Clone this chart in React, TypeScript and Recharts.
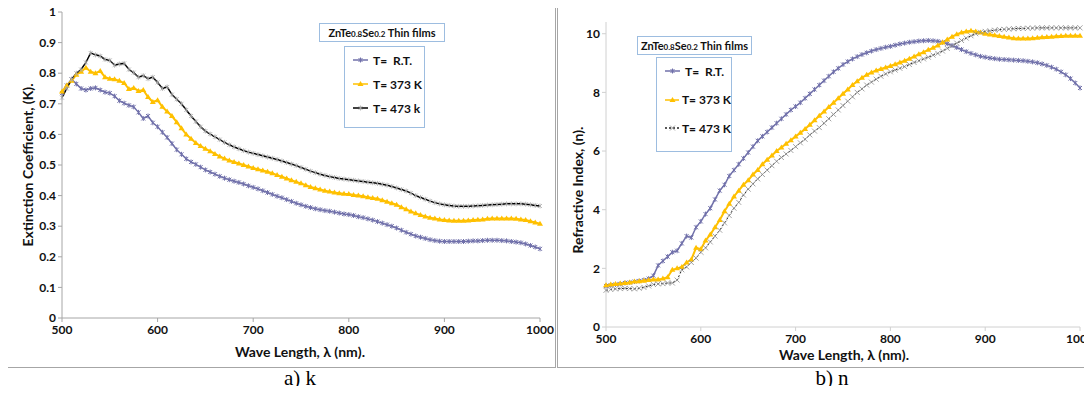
import { LineChart, Line, XAxis, YAxis } from "recharts";

// wavelength (nm), one reading every 5 nm
const WL = [
  500, 505, 510, 515, 520, 525, 530, 535, 540, 545,
  550, 555, 560, 565, 570, 575, 580, 585, 590, 595,
  600, 605, 610, 615, 620, 625, 630, 635, 640, 645,
  650, 655, 660, 665, 670, 675, 680, 685, 690, 695,
  700, 705, 710, 715, 720, 725, 730, 735, 740, 745,
  750, 755, 760, 765, 770, 775, 780, 785, 790, 795,
  800, 805, 810, 815, 820, 825, 830, 835, 840, 845,
  850, 855, 860, 865, 870, 875, 880, 885, 890, 895,
  900, 905, 910, 915, 920, 925, 930, 935, 940, 945,
  950, 955, 960, 965, 970, 975, 980, 985, 990, 995,
  1000,
];

// extinction coefficient k
const K_RT = [
  0.735, 0.76, 0.78, 0.765, 0.75, 0.745, 0.75, 0.752, 0.745, 0.738,
  0.735, 0.725, 0.71, 0.702, 0.695, 0.69, 0.672, 0.652, 0.66, 0.638,
  0.625, 0.607, 0.59, 0.57, 0.55, 0.535, 0.52, 0.51, 0.502, 0.493,
  0.484, 0.477, 0.47, 0.463, 0.457, 0.452, 0.447, 0.443, 0.438, 0.432,
  0.427, 0.422, 0.416, 0.41, 0.404, 0.398, 0.393, 0.387, 0.381, 0.375,
  0.37, 0.365, 0.361, 0.357, 0.354, 0.351, 0.349, 0.346, 0.343, 0.34,
  0.338, 0.335, 0.331, 0.328, 0.324, 0.32, 0.315, 0.31, 0.305, 0.3,
  0.294, 0.287, 0.28, 0.274, 0.268, 0.264, 0.26, 0.256, 0.253, 0.251,
  0.25, 0.25, 0.25, 0.25, 0.25, 0.251, 0.252, 0.252, 0.253, 0.254,
  0.254, 0.254, 0.253, 0.252, 0.25, 0.248, 0.246, 0.242, 0.237, 0.232,
  0.226,
];
const K_373 = [
  0.74, 0.76, 0.775, 0.795, 0.805, 0.818, 0.805, 0.8, 0.807, 0.787,
  0.782, 0.78, 0.775, 0.768, 0.748, 0.752, 0.742, 0.745, 0.722, 0.706,
  0.712, 0.69, 0.675, 0.66, 0.64, 0.62, 0.6, 0.586, 0.572, 0.562,
  0.553, 0.545, 0.536, 0.528, 0.521, 0.515, 0.51, 0.505, 0.5, 0.495,
  0.49, 0.486, 0.482, 0.478, 0.473, 0.467, 0.462, 0.456, 0.45, 0.445,
  0.44, 0.434, 0.428, 0.424, 0.42, 0.416, 0.413, 0.41, 0.408, 0.406,
  0.405, 0.402, 0.4, 0.398, 0.395, 0.392, 0.39, 0.385, 0.38, 0.375,
  0.37, 0.362, 0.355, 0.348, 0.342, 0.337, 0.332, 0.328, 0.325, 0.322,
  0.32, 0.319, 0.318, 0.318, 0.318, 0.319, 0.32, 0.321, 0.322, 0.324,
  0.325, 0.325, 0.325, 0.325, 0.325, 0.324, 0.322, 0.32, 0.316, 0.312,
  0.308,
];
const K_473 = [
  0.72, 0.75, 0.78, 0.8, 0.812, 0.835, 0.866, 0.86, 0.856, 0.845,
  0.842, 0.826, 0.83, 0.832, 0.812, 0.802, 0.787, 0.792, 0.782, 0.787,
  0.77, 0.75, 0.755, 0.73, 0.715, 0.7, 0.68, 0.66, 0.642, 0.625,
  0.611, 0.601, 0.592, 0.583, 0.574, 0.566, 0.559, 0.553, 0.547, 0.542,
  0.538, 0.534, 0.53, 0.526, 0.522, 0.518, 0.513, 0.508, 0.503, 0.498,
  0.492, 0.486, 0.48, 0.475, 0.47, 0.466, 0.462, 0.459, 0.456, 0.454,
  0.452, 0.45, 0.448, 0.446, 0.444, 0.442, 0.44, 0.437, 0.434, 0.43,
  0.425, 0.42, 0.415, 0.408, 0.4, 0.394, 0.388, 0.382, 0.377, 0.373,
  0.37, 0.368, 0.366, 0.365, 0.365, 0.365, 0.366, 0.367, 0.368, 0.369,
  0.37, 0.371, 0.372, 0.373, 0.373, 0.373, 0.373, 0.372, 0.37, 0.368,
  0.366,
];

// refractive index n
const N_RT = [
  1.4, 1.42, 1.45, 1.47, 1.5, 1.52, 1.55, 1.57, 1.6, 1.65,
  1.75, 2.1, 2.25, 2.4, 2.55, 2.6, 2.85, 3.1, 3.05, 3.4,
  3.6, 3.85, 4.05, 4.35, 4.65, 4.85, 5.15, 5.35, 5.55, 5.75,
  5.95, 6.15, 6.35, 6.5, 6.65, 6.8, 6.95, 7.1, 7.25, 7.4,
  7.52, 7.65, 7.8, 7.95, 8.1, 8.25, 8.4, 8.55, 8.7, 8.82,
  8.95, 9.05, 9.14, 9.22, 9.29, 9.35, 9.41, 9.46, 9.5, 9.54,
  9.57, 9.61, 9.65, 9.68, 9.71, 9.73, 9.75, 9.76, 9.77, 9.76,
  9.74, 9.71, 9.66, 9.6, 9.53, 9.46, 9.39, 9.33, 9.28, 9.23,
  9.2, 9.17, 9.15, 9.13, 9.12, 9.11, 9.1, 9.09, 9.08, 9.06,
  9.04, 9.01, 8.97, 8.92, 8.86, 8.79, 8.7, 8.6, 8.47, 8.32,
  8.15,
];
const N_373 = [
  1.42, 1.45, 1.47, 1.48, 1.5, 1.52, 1.55, 1.56, 1.58, 1.6,
  1.62, 1.62, 1.65, 1.7, 1.95, 2.0, 2.05, 2.2, 2.3, 2.7,
  2.65, 2.95, 3.15, 3.4, 3.65, 3.95, 4.2, 4.45, 4.65, 4.85,
  5.0, 5.2, 5.35, 5.55, 5.7, 5.85, 6.0, 6.12, 6.25, 6.37,
  6.5, 6.62, 6.75, 6.9, 7.05, 7.2, 7.35, 7.5, 7.65, 7.8,
  7.95, 8.1, 8.25, 8.38, 8.5, 8.6, 8.68, 8.75, 8.8, 8.85,
  8.9, 8.96, 9.02, 9.08, 9.15, 9.22, 9.3, 9.37, 9.45, 9.52,
  9.6, 9.7, 9.8, 9.9, 9.98, 10.04, 10.08, 10.1, 10.08, 10.04,
  10.0, 9.97, 9.95, 9.92, 9.9, 9.87, 9.85, 9.84, 9.84, 9.84,
  9.85, 9.86, 9.88, 9.89, 9.9, 9.91, 9.92, 9.93, 9.93, 9.93,
  9.93,
];
const N_473 = [
  1.25, 1.28, 1.3, 1.31, 1.32, 1.31, 1.3, 1.32, 1.35, 1.4,
  1.45, 1.47, 1.48, 1.5, 1.5, 1.6, 1.95, 2.05, 2.2, 2.35,
  2.55, 2.7, 2.9, 3.1, 3.3, 3.55, 3.8, 4.05, 4.25, 4.5,
  4.7, 4.88, 5.05, 5.2, 5.35, 5.5, 5.65, 5.78, 5.9, 6.02,
  6.15, 6.28, 6.4, 6.55, 6.68, 6.8, 6.95, 7.1, 7.25, 7.4,
  7.55, 7.7, 7.85, 8.0, 8.12, 8.25, 8.35, 8.45, 8.55, 8.63,
  8.7, 8.76, 8.82, 8.88, 8.95, 9.02, 9.08, 9.14, 9.2, 9.27,
  9.33, 9.41, 9.5, 9.59, 9.68, 9.77, 9.85, 9.93, 10.0, 10.05,
  10.08, 10.1, 10.12, 10.14, 10.15, 10.16, 10.17, 10.18, 10.18, 10.19,
  10.19, 10.2, 10.2, 10.2, 10.2, 10.2, 10.2, 10.2, 10.2, 10.2,
  10.2,
];

const WL_TICKS = [500, 600, 700, 800, 900, 1000];
const K_TICKS = [0, 0.1, 0.2, 0.3, 0.4, 0.5, 0.6, 0.7, 0.8, 0.9, 1];
const N_TICKS = [0, 2, 4, 6, 8, 10];

const K_LABELS = ["T=  R.T.", "T= 373 K", "T= 473 k"];
const N_LABELS = ["T=  R.T.", "T= 373 K", "T= 473 K"];

const kRows = WL.map((wl, i) => ({ wl, rt: K_RT[i], t373: K_373[i], t473: K_473[i] }));
const nRows = WL.map((wl, i) => ({ wl, rt: N_RT[i], t373: N_373[i], t473: N_473[i] }));

const FONT = "Lato, 'Open Sans', sans-serif";
const PURPLE = "#7070aa";
const GOLD = "#ffc000";
const AXIS = "#a6a6a6";
const BOX = "#9dbde0";

const tick = { fontSize: 12, fontWeight: 700, fill: "#111", fontFamily: FONT };

// markers
function Star({ cx, cy }: { cx: number; cy: number }) {
  return (
    <g stroke={PURPLE} strokeWidth={1}>
      <line x1={cx - 2} y1={cy - 2} x2={cx + 2} y2={cy + 2} />
      <line x1={cx - 2} y1={cy + 2} x2={cx + 2} y2={cy - 2} />
      <line x1={cx} y1={cy - 2.5} x2={cx} y2={cy + 2.5} />
    </g>
  );
}
function Tri({ cx, cy }: { cx: number; cy: number }) {
  return <path d={`M${cx},${cy - 3} L${cx + 3},${cy + 2} L${cx - 3},${cy + 2} Z`} fill={GOLD} />;
}
function Asterisk({ cx, cy }: { cx: number; cy: number }) {
  return (
    <g stroke="#aaa" strokeWidth={0.8}>
      <line x1={cx - 2} y1={cy - 2} x2={cx + 2} y2={cy + 2} />
      <line x1={cx - 2} y1={cy + 2} x2={cx + 2} y2={cy - 2} />
      <line x1={cx} y1={cy - 2.5} x2={cx} y2={cy + 2.5} />
    </g>
  );
}
function Cross({ cx, cy }: { cx: number; cy: number }) {
  return (
    <g stroke="#8c8c8c" strokeWidth={0.8} fill="none">
      <line x1={cx - 2.5} y1={cy - 2.5} x2={cx + 2.5} y2={cy + 2.5} />
      <line x1={cx - 2.5} y1={cy + 2.5} x2={cx + 2.5} y2={cy - 2.5} />
    </g>
  );
}

const dotOf = (M: any) => (p: any) =>
  p.cx == null ? <g key={p.index} /> : <M key={p.index} cx={p.cx} cy={p.cy} />;

// axis title placed by its centre, page pixels
function Title({ cx, cy, text, rotate }: { cx: number; cy: number; text: string; rotate?: boolean }) {
  return (
    <div
      style={{
        position: "absolute", left: cx, top: cy, whiteSpace: "nowrap", lineHeight: 1,
        transform: `translate(-50%, -50%)${rotate ? " rotate(-90deg)" : ""}`,
        fontFamily: FONT, fontWeight: 700, fontSize: 14, color: "#111",
      }}
    >
      {text}
    </div>
  );
}

function Compound() {
  return (
    <span>
      ZnTe<span style={{ fontSize: 8 }}>0.8</span>Se<span style={{ fontSize: 8 }}>0.2</span> Thin films
    </span>
  );
}

function LegendRow({ marker, color, dash, label }: { marker: any; color: string; dash?: string; label: string }) {
  const M = marker;
  return (
    <div style={{ display: "flex", alignItems: "center", height: 14 }}>
      <svg width={18} height={10}>
        <line x1={1} y1={5} x2={16} y2={5} stroke={color} strokeWidth={1.5} strokeDasharray={dash} />
        <M cx={8.5} cy={5} />
      </svg>
      <span style={{ marginLeft: 3, whiteSpace: "pre" }}>{label}</span>
    </div>
  );
}

function Legend({
  left, top, titleW, boxLeft, boxTop, boxW, boxH, gap, labels, last, lastColor, lastDash,
}: any) {
  const textStyle = { fontFamily: FONT, fontWeight: 700, fontSize: 12, color: "#111" };
  return (
    <>
      <div
        style={{
          position: "absolute", left, top, width: titleW, height: 19, border: `1px solid ${BOX}`,
          boxSizing: "border-box", display: "flex", alignItems: "center", justifyContent: "center",
          ...textStyle, fontSize: 11,
        }}
      >
        <Compound />
      </div>
      <div
        style={{
          position: "absolute", left: boxLeft, top: boxTop, width: boxW, height: boxH,
          border: `1px solid ${BOX}`, boxSizing: "border-box", padding: "6px 0 0 7px",
          display: "flex", flexDirection: "column", gap, ...textStyle,
        }}
      >
        <LegendRow marker={Star} color={PURPLE} label={labels[0]} />
        <LegendRow marker={Tri} color={GOLD} label={labels[1]} />
        <LegendRow marker={last} color={lastColor} dash={lastDash} label={labels[2]} />
      </div>
    </>
  );
}

export default function App() {
  return (
    <div style={{ position: "relative", width: 1092, height: 394, background: "#fff", margin: -8 }}>
      <style>{`body{margin:8px;}`}</style>

      {/* frames */}
      <div style={{ position: "absolute", left: 7, top: 5, width: 549, height: 363, border: `1px solid ${AXIS}`, boxSizing: "border-box" }} />
      <div style={{ position: "absolute", left: 557, top: 5, width: 534, height: 363, border: `1px solid ${AXIS}`, boxSizing: "border-box" }} />

      {/* a) k */}
      <div style={{ position: "absolute", left: 8, top: 5 }}>
        <LineChart width={548} height={362} data={kRows} margin={{ top: 7, right: 16, bottom: 0, left: 0 }}>
          <XAxis
            dataKey="wl" type="number" domain={[500, 1000]} ticks={WL_TICKS}
            height={49} tickSize={4} tickMargin={3} tick={tick}
            stroke={AXIS} interval={0}
          />
          <YAxis
            type="number" domain={[0, 1]} ticks={K_TICKS} width={54} tickSize={4} tickMargin={2}
            tick={tick} stroke={AXIS} interval={0}
            tickFormatter={(v: number) => String(+v.toFixed(1))}
          />
          <Line dataKey="rt" stroke={PURPLE} strokeWidth={1.5} dot={dotOf(Star)} isAnimationActive={false} />
          <Line dataKey="t373" stroke={GOLD} strokeWidth={2} dot={dotOf(Tri)} isAnimationActive={false} />
          <Line dataKey="t473" stroke="#000" strokeWidth={1.5} dot={dotOf(Asterisk)} isAnimationActive={false} />
        </LineChart>
      </div>

      {/* b) n */}
      <div style={{ position: "absolute", left: 557, top: 5 }}>
        <LineChart width={533} height={362} data={nRows} margin={{ top: 17, right: 10, bottom: 0, left: 0 }}>
          <XAxis
            dataKey="wl" type="number" domain={[500, 1000]} ticks={WL_TICKS}
            height={40} tickSize={4} tickMargin={3} tick={tick}
            stroke="#d0d0d0" interval={0}
          />
          <YAxis
            type="number" domain={[0, 10.4]} ticks={N_TICKS} width={49} tickSize={4} tickMargin={2}
            tick={tick} stroke="#d0d0d0" interval={0}
          />
          <Line dataKey="rt" stroke={PURPLE} strokeWidth={1.5} dot={dotOf(Star)} isAnimationActive={false} />
          <Line dataKey="t373" stroke={GOLD} strokeWidth={2} dot={dotOf(Tri)} isAnimationActive={false} />
          <Line dataKey="t473" stroke="#222" strokeWidth={1} strokeDasharray="2 2" dot={dotOf(Cross)} isAnimationActive={false} />
        </LineChart>
      </div>

      <Title cx={300} cy={352} text="Wave Length, λ (nm)." />
      <Title cx={28} cy={165} text="Extinction Coefficient,  (K)." rotate />
      <Title cx={844} cy={355} text="Wave Length, λ (nm)." />
      <Title cx={578} cy={190} text="Refractive Index, (n)." rotate />

      <Legend
        left={319} top={23} titleW={126} boxLeft={344} boxTop={46} boxW={81} boxH={82} gap={10}
        labels={K_LABELS} last={Asterisk} lastColor="#000"
      />
      <Legend
        left={637} top={36} titleW={115} boxLeft={656} boxTop={57} boxW={76} boxH={95} gap={14.5}
        labels={N_LABELS} last={Cross} lastColor="#222" lastDash="2 2"
      />

      {/* captions */}
      <div style={{ position: "absolute", left: 250, top: 366, width: 100, textAlign: "center", fontFamily: "'Liberation Serif', serif", fontSize: 21 }}>a) k</div>
      <div style={{ position: "absolute", left: 782, top: 366, width: 100, textAlign: "center", fontFamily: "'Liberation Serif', serif", fontSize: 21 }}>b) n</div>
    </div>
  );
}
